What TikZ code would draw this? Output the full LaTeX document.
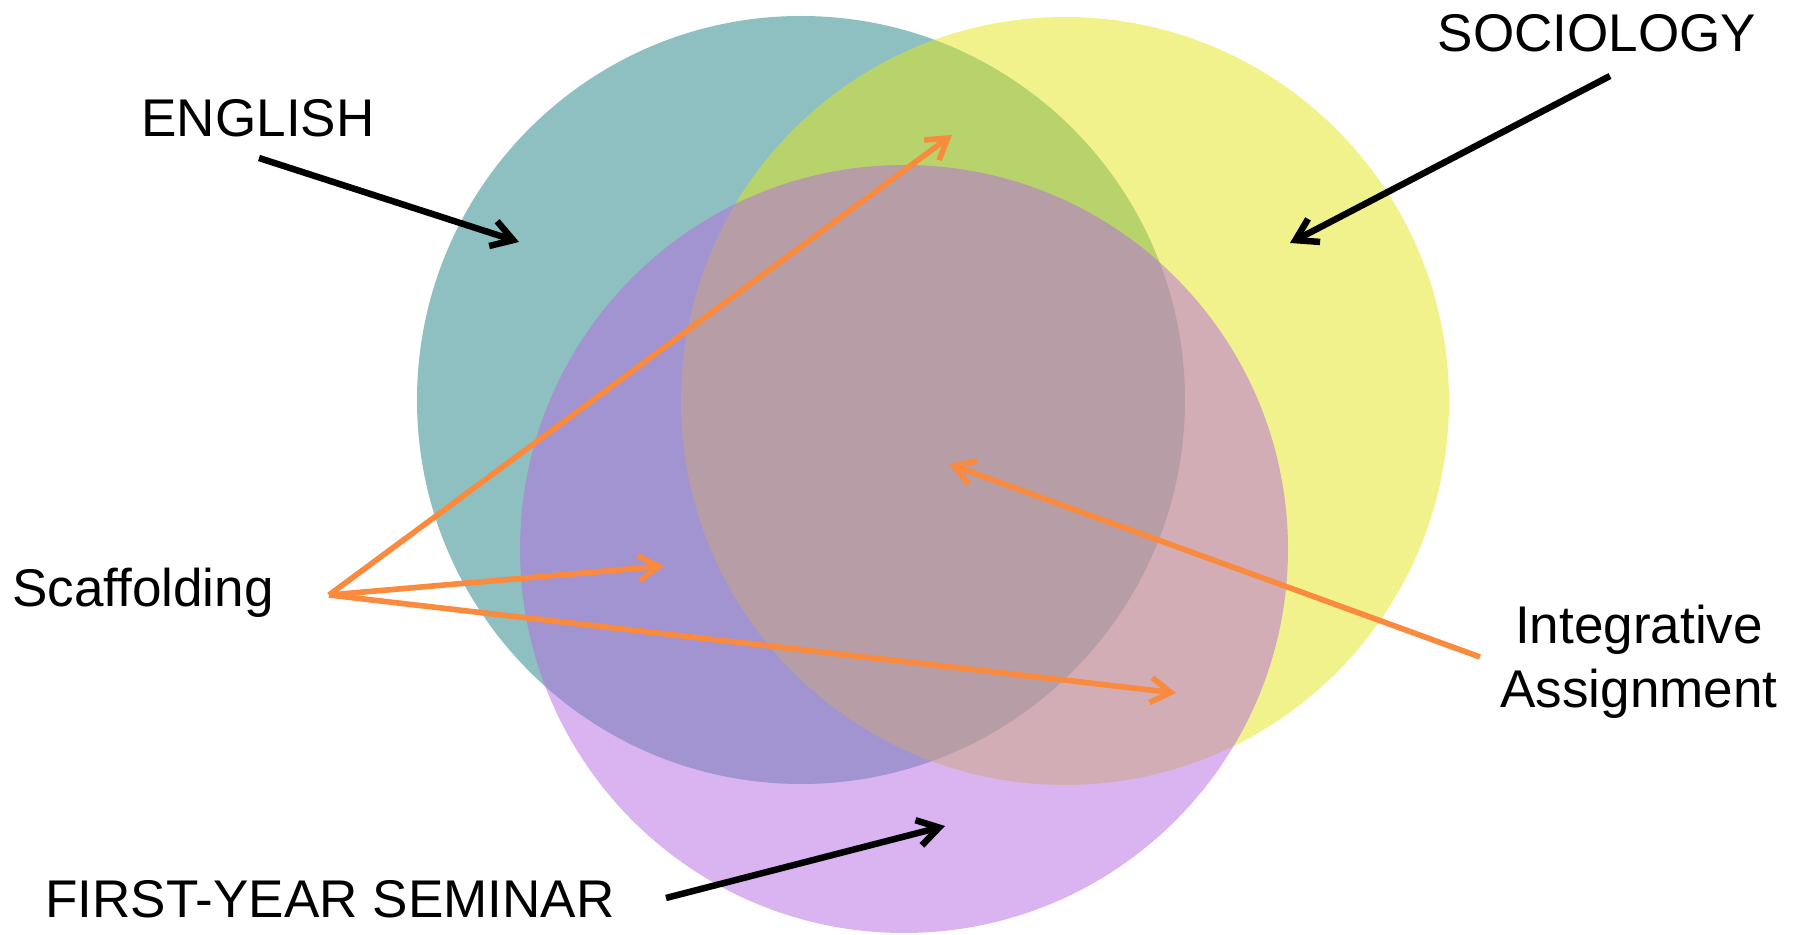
\documentclass[tikz,border=0pt]{standalone}
\usepackage{fontspec}
\setmainfont{Liberation Sans}
\usetikzlibrary{arrows.meta}
\definecolor{engteal}{RGB}{29,129,131}
\definecolor{socyellow}{RGB}{227,229,25}
\definecolor{fyspurple}{RGB}{181,105,225}
\definecolor{scaforange}{RGB}{249,138,62}

\begin{document}
\begin{tikzpicture}[x=0.02cm, y=-0.02cm,
    every node/.style={font=\fontsize{30.2}{36.3}\selectfont, inner sep=0pt},
    blackarrow/.style={line width=3.7pt, -{Straight Barb[length=0.42cm, width=0.52cm]}},
    orangearrow/.style={line width=3.2pt, scaforange, -{Straight Barb[length=0.4cm, width=0.5cm]}}]
    \useasboundingbox (0,0) rectangle (1800,935);
    % the three circles
    \coordinate (engctr) at (801,400);
    \coordinate (socctr) at (1065,401);
    \coordinate (fysctr) at (904,549);
    \fill[engteal, fill opacity=0.5] (engctr) circle (384);
    \fill[socyellow, fill opacity=0.5] (socctr) circle (384);
    \fill[fyspurple, fill opacity=0.5] (fysctr) circle (384);
    % labels
    \node[anchor=base] (english) at (258,137) {ENGLISH};
    \node[anchor=base] (sociology) at (1597,52) {SOCIOLOGY};
    \node[anchor=base] (scaffolding) at (143,607) {Scaffolding};
    \node[anchor=base] (seminar) at (330,917) {FIRST-YEAR SEMINAR};
    \node[anchor=north, align=center] (integrative) at (1639,605) {Integrative\\Assignment};
    % arrow ends
    \coordinate (engfrom) at (259,158);
    \coordinate (engto) at (519,242);
    \coordinate (socfrom) at (1610,76);
    \coordinate (socto) at (1290,243);
    \coordinate (fysfrom) at (666,898);
    \coordinate (fysto) at (945,826);
    \coordinate (scaffrom) at (329,595);
    \coordinate (scafa) at (952,135);
    \coordinate (scafb) at (664,566);
    \coordinate (scafc) at (1176,693);
    \coordinate (intfrom) at (1480,657);
    \coordinate (intto) at (949,464);
    % black arrows
    \draw[blackarrow] (engfrom) -- (engto);
    \draw[blackarrow] (socfrom) -- (socto);
    \draw[blackarrow] (fysfrom) -- (fysto);
    % orange arrows
    \foreach \t in {scafa,scafb,scafc} {
        \draw[orangearrow] (scaffrom) -- (\t);
    }
    \draw[orangearrow] (intfrom) -- (intto);
\end{tikzpicture}
\end{document}
